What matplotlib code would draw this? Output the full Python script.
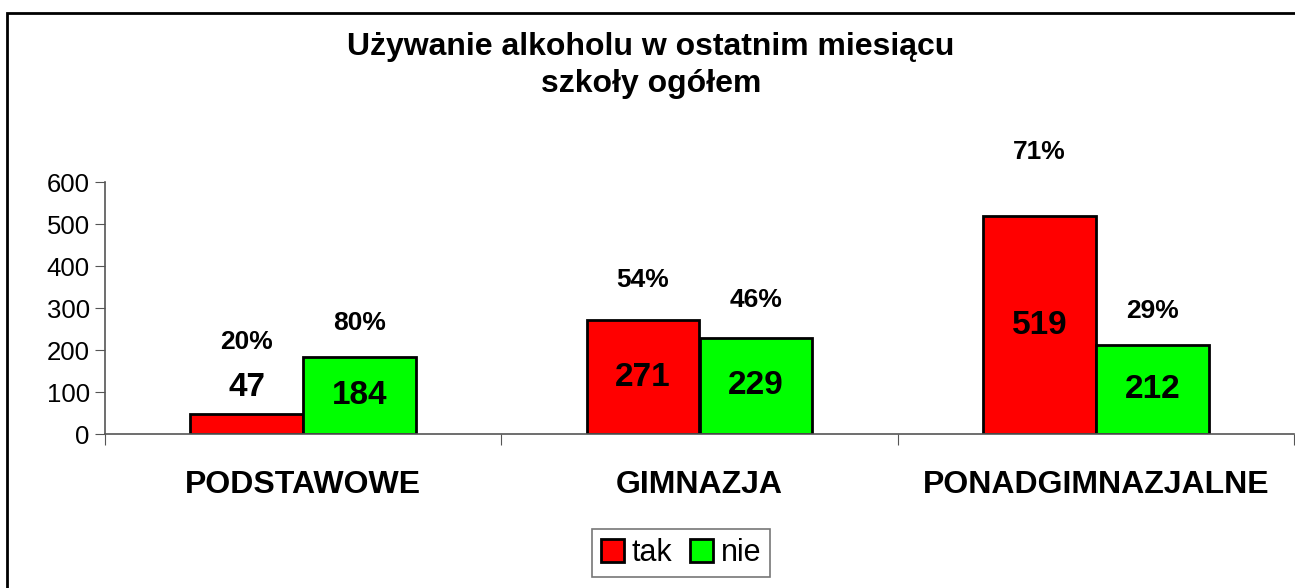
import matplotlib
matplotlib.use("Agg")
import matplotlib.pyplot as plt
from matplotlib.patches import Rectangle
import numpy as np

categories = ["PODSTAWOWE", "GIMNAZJA", "PONADGIMNAZJALNE"]
tak = [47, 271, 519]
nie = [184, 229, 212]
tak_pct = ["20%", "54%", "71%"]
nie_pct = ["80%", "46%", "29%"]
series_names = ["tak", "nie"]
title_lines = ["Używanie alkoholu w ostatnim miesiącu", "szkoły ogółem"]
yticks = [0, 100, 200, 300, 400, 500, 600]

# label heights (data units) for the percentage annotations
tak_pct_y = [219, 367, 671]
nie_pct_y = [264, 319, 293]

plt.rcParams['font.family'] = ['Liberation Sans', 'DejaVu Sans']

fig = plt.figure(figsize=(12.95, 5.88), dpi=100)
fig.patches.append(Rectangle((7/1295, -0.1), 1.2, 1 - 13/588 + 0.1, transform=fig.transFigure,
                             fill=False, edgecolor='black', linewidth=2))

ax = fig.add_axes([105/1295, 1 - 434/588, (1294 - 105)/1295, (434 - 182)/588])
x = np.arange(len(categories))
w = 0.285
ax.bar(x - w/2, tak, w, color='#ff0000', edgecolor='black', linewidth=2, label=series_names[0])
ax.bar(x + w/2, nie, w, color='#00ff00', edgecolor='black', linewidth=2, label=series_names[1])

ax.set_xlim(-0.5, len(categories) - 0.5)
ax.set_ylim(0, 600)
ax.set_yticks(yticks)
ax.set_yticklabels([str(t) for t in yticks], fontsize=18.5)
ax.set_xticks(np.arange(len(categories) + 1) - 0.5)
ax.set_xticklabels([])
ax.set_xticks(x, minor=True)
ax.set_xticklabels(categories, minor=True, fontsize=23, fontweight='bold')
ax.tick_params(axis='x', which='minor', length=0, pad=26)
ax.tick_params(axis='x', which='major', length=8, direction='out', color='#555555')
ax.tick_params(axis='y', length=7, direction='out', color='#555555', pad=4)
for s in ['top', 'right']:
    ax.spines[s].set_visible(False)
for s in ['left', 'bottom']:
    ax.spines[s].set_color('#555555')
    ax.spines[s].set_linewidth(1.2)

for i in range(len(categories)):
    for val, xx in ((tak[i], x[i] - w/2), (nie[i], x[i] + w/2)):
        ly = val / 2 if val / 2 > 60 else val + 63
        ax.text(xx, ly, str(val), ha='center', va='center', fontsize=24, fontweight='bold')
    ax.text(x[i] - w/2, tak_pct_y[i], tak_pct[i], ha='center', va='center', fontsize=19, fontweight='bold')
    ax.text(x[i] + w/2, nie_pct_y[i], nie_pct[i], ha='center', va='center', fontsize=19, fontweight='bold')
for t in ax.texts:
    t.set_clip_on(False)

fig.text(651/1295, 1 - 47/588, title_lines[0], ha='center', va='center', fontsize=23, fontweight='bold')
fig.text(651/1295, 1 - 84/588, title_lines[1], ha='center', va='center', fontsize=23, fontweight='bold')

leg = fig.legend(loc='center', bbox_to_anchor=(681/1295, 1 - 553/588), ncol=2, fontsize=22,
                 frameon=True, fancybox=False, edgecolor='#555555', handlelength=0.75, handleheight=0.75,
                 handletextpad=0.25, columnspacing=0.6, borderpad=0.3, borderaxespad=0)
leg.get_frame().set_linewidth(1.2)
for h in leg.legend_handles:
    h.set_linewidth(2)

fig.savefig("out.png", dpi=100)
